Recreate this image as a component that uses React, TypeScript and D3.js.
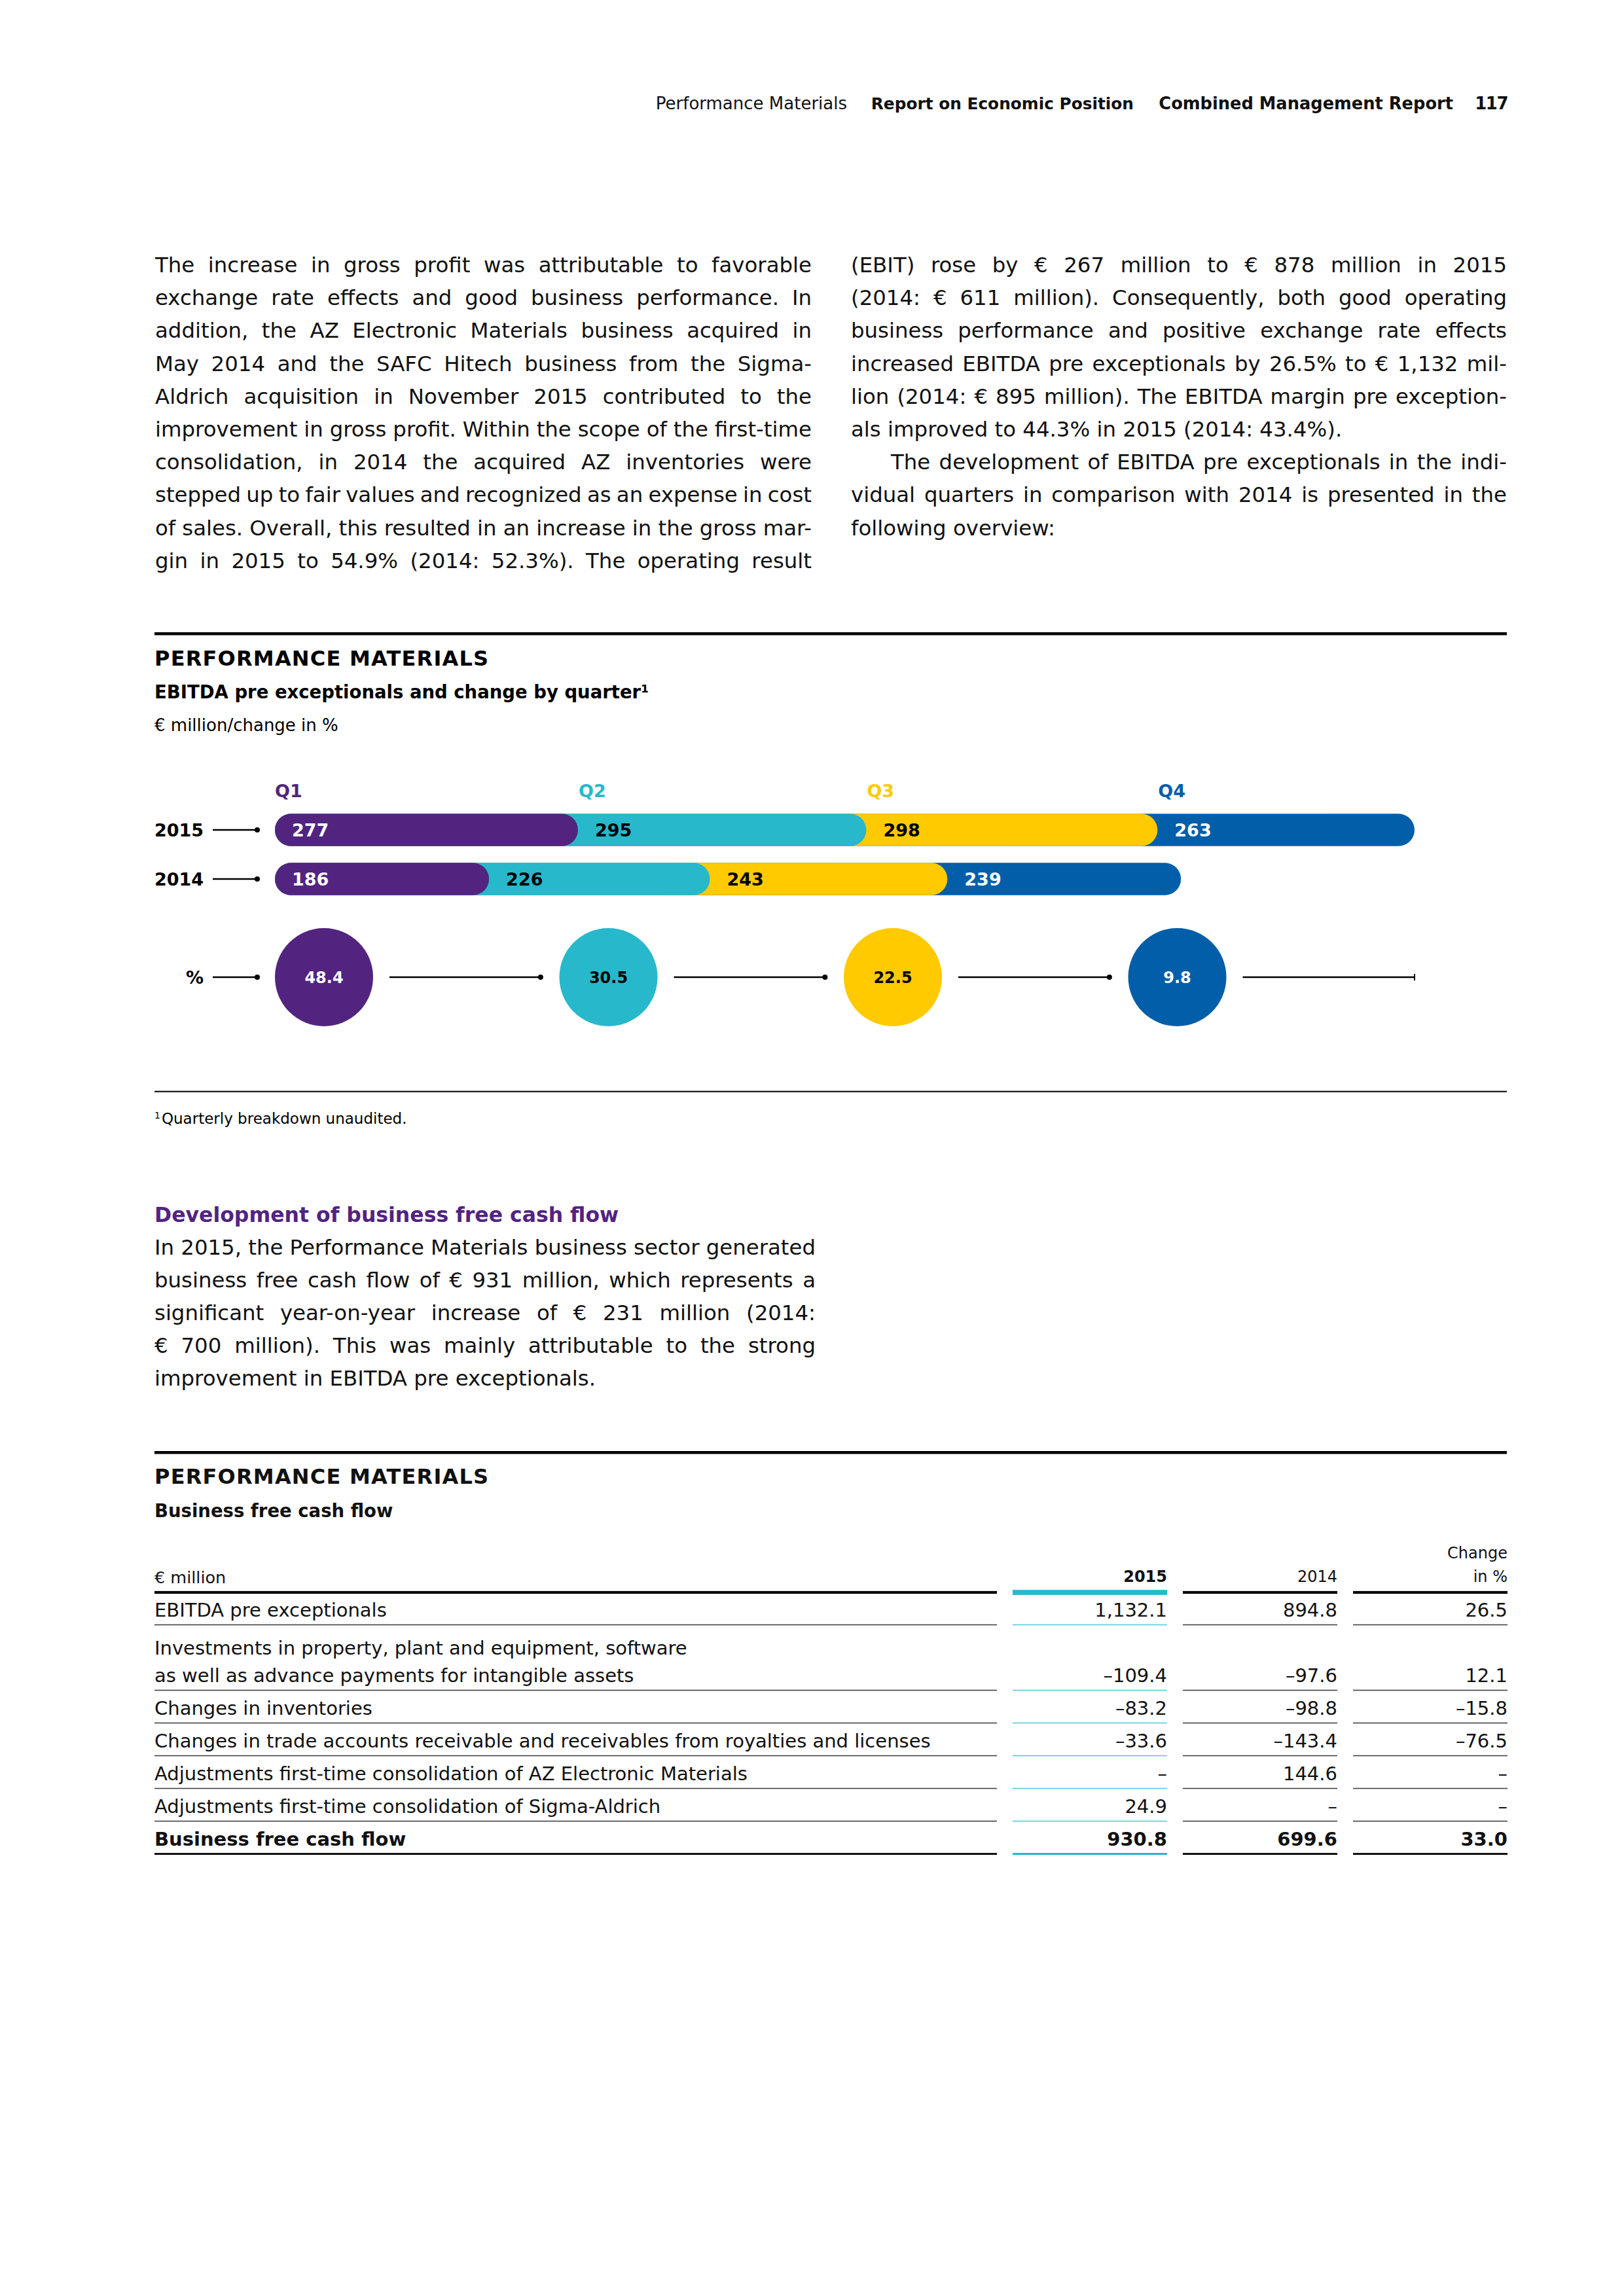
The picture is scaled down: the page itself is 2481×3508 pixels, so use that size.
import React from 'react';
import * as d3 from 'd3';

const FONT = '"DejaVu Sans", Verdana, sans-serif';

// ---------- chart data ----------
const quarters = ['Q1', 'Q2', 'Q3', 'Q4'];
const years = ['2015', '2014'];
const ebitda2015 = [277, 295, 298, 263];
const ebitda2014 = [186, 226, 243, 239];
const changePct = [48.4, 30.5, 22.5, 9.8];
const quarterColors = ['#52247f', '#27b8cc', '#ffca00', '#035ea9'];
const quarterTextColors = ['#ffffff', '#000000', '#000000', '#ffffff'];

// ---------- table data ----------
const tableRowLabels = [
  ['EBITDA pre exceptionals'],
  ['Investments in property, plant and equipment, software', 'as well as advance payments for intangible assets'],
  ['Changes in inventories'],
  ['Changes in trade accounts receivable and receivables from royalties and licenses'],
  ['Adjustments first-time consolidation of AZ Electronic Materials'],
  ['Adjustments first-time consolidation of Sigma-Aldrich'],
  ['Business free cash flow'],
];
const tableValues2015 = [1132.1, -109.4, -83.2, -33.6, null, 24.9, 930.8];
const tableValues2014 = [894.8, -97.6, -98.8, -143.4, 144.6, null, 699.6];
const tableChange = [26.5, 12.1, -15.8, -76.5, null, null, 33.0];
const tableHeaders = ['2015', '2014', 'Change|in %'];

// ---------- page text ----------
const leftCol = [
  'The increase in gross profit was attributable to favorable',
  'exchange rate effects and good business performance. In',
  'addition, the AZ Electronic Materials business acquired in',
  'May 2014 and the SAFC Hitech business from the Sigma-',
  'Aldrich acquisition in November 2015 contributed to the',
  'improvement in gross profit. Within the scope of the first-time',
  'consolidation, in 2014 the acquired AZ inventories were',
  'stepped up to fair values and recognized as an expense in cost',
  'of sales. Overall, this resulted in an increase in the gross mar-',
  'gin in 2015 to 54.9% (2014: 52.3%). The operating result',
];
const rightCol = [
  '(EBIT) rose by € 267 million to € 878 million in 2015',
  '(2014: € 611 million). Consequently, both good operating',
  'business performance and positive exchange rate effects',
  'increased EBITDA pre exceptionals by 26.5% to € 1,132 mil-',
  'lion (2014: € 895 million). The EBITDA margin pre exception-',
  'als improved to 44.3% in 2015 (2014: 43.4%).',
  'The development of EBITDA pre exceptionals in the indi-',
  'vidual quarters in comparison with 2014 is presented in the',
  'following overview:',
];
const rightJustify = [true, true, true, true, true, false, true, true, false];
const rightIndent = [0, 0, 0, 0, 0, 0, 61, 0, 0];
const devCol = [
  'In 2015, the Performance Materials business sector generated',
  'business free cash flow of € 931 million, which represents a',
  'significant year-on-year increase of € 231 million (2014:',
  '€ 700 million). This was mainly attributable to the strong',
  'improvement in EBITDA pre exceptionals.',
];

const BODY = 32.4;
const LEAD = 50.2;

let ctx: CanvasRenderingContext2D | null = null;
function textWidth(s: string, size: number, weight = 400) {
  if (!ctx) ctx = document.createElement('canvas').getContext('2d');
  if (!ctx) return s.length * size * 0.55;
  ctx.font = `${weight} ${size}px "DejaVu Sans"`;
  return ctx.measureText(s).width;
}

function JLine({ text, x0, x1, y, size, justify }: any) {
  if (!justify) {
    return (
      <text x={x0} y={y} fontSize={size} fontFamily={FONT} fill="#111">
        {text}
      </text>
    );
  }
  const words = text.split(' ');
  const widths = words.map((w: string) => textWidth(w, size));
  const total = d3.sum(widths);
  const gap = words.length > 1 ? (x1 - x0 - total) / (words.length - 1) : 0;
  let cx = x0;
  const xs: number[] = [];
  widths.forEach((w: number) => {
    xs.push(cx);
    cx += w + gap;
  });
  return (
    <text y={y} fontSize={size} fontFamily={FONT} fill="#111">
      {words.map((w: string, i: number) => (
        <tspan key={i} x={xs[i]}>
          {w}
        </tspan>
      ))}
    </text>
  );
}

const fmt = (v: number | null) => (v === null ? '–' : d3.format(',.1f')(v).replace('−', '–').replace('-', '–'));

function Chart() {
  const barLeft = 420;
  const barH = 49.4;
  const r = barH / 2;
  const total15 = d3.sum(ebitda2015);
  const x = d3.scaleLinear().domain([0, total15]).range([barLeft + barH, 2161]);
  const rowY = d3.scalePoint().domain(years).range([1268, 1343]);
  const band = d3.scaleBand().domain(quarters).range([barLeft, barLeft + 4 * 434.5]);
  const circR = 75;
  const circY = 1493;
  const cum15 = d3.cumsum(ebitda2015);
  const seriesByYear: Record<string, number[]> = { '2015': ebitda2015, '2014': ebitda2014 };

  return (
    <g fontFamily={FONT}>
      {/* title block */}
      <rect x={236} y={966} width={2066} height={4.5} fill="#000" />
      <text x={236} y={1017} fontSize={32} fontWeight={700} letterSpacing={1.2}>PERFORMANCE MATERIALS</text>
      <text x={236} y={1067} fontSize={27.5} fontWeight={700}>EBITDA pre exceptionals and change by quarter¹</text>
      <text x={236} y={1117} fontSize={26}>€ million/change in %</text>

      {/* quarter labels */}
      {quarters.map((q, i) => (
        <text key={q} x={i === 0 ? barLeft : x(cum15[i - 1]) + 1} y={1218} fontSize={27} fontWeight={700} fill={quarterColors[i]}>
          {q}
        </text>
      ))}

      {/* stacked pill bars */}
      {years.map((yr) => {
        const vals = seriesByYear[yr];
        const cum = d3.cumsum(vals);
        const cy = rowY(yr) as number;
        return (
          <g key={yr}>
            <text x={236} y={cy + 10} fontSize={27} fontWeight={700}>{yr}</text>
            <line x1={325} x2={393} y1={cy} y2={cy} stroke="#000" strokeWidth={2.4} />
            <circle cx={393} cy={cy} r={4} fill="#000" />
            {[3, 2, 1, 0].map((i) => (
              <rect key={i} x={barLeft} y={cy - r} width={x(cum[i]) - barLeft} height={barH} rx={r} ry={r} fill={quarterColors[i]} />
            ))}
            {vals.map((v, i) => (
              <text key={'t' + i} x={(i === 0 ? barLeft : x(cum[i - 1])) + 26} y={cy + 10} fontSize={27} fontWeight={700} fill={quarterTextColors[i]}>
                {v}
              </text>
            ))}
          </g>
        );
      })}

      {/* % row */}
      <text x={311} y={circY + 10} fontSize={27} fontWeight={700} textAnchor="end">%</text>
      <line x1={325} x2={393} y1={circY} y2={circY} stroke="#000" strokeWidth={2.4} />
      <circle cx={393} cy={circY} r={4} fill="#000" />
      {quarters.map((q, i) => {
        const cx = (band(q) as number) + circR;
        const lx1 = cx + circR + 25;
        const lx2 = i < 3 ? (band(quarters[i + 1]) as number) - 28.6 : x(total15);
        return (
          <g key={q}>
            <circle cx={cx} cy={circY} r={circR} fill={quarterColors[i]} />
            <text x={cx} y={circY + 9} fontSize={24} fontWeight={700} textAnchor="middle" fill={quarterTextColors[i]}>
              {changePct[i].toFixed(1)}
            </text>
            <line x1={lx1} x2={lx2} y1={circY} y2={circY} stroke="#000" strokeWidth={2.4} />
            {i < 3 ? (
              <circle cx={lx2} cy={circY} r={4} fill="#000" />
            ) : (
              <line x1={lx2} x2={lx2} y1={circY - 5} y2={circY + 5} stroke="#000" strokeWidth={2} />
            )}
          </g>
        );
      })}

      {/* footnote */}
      <rect x={236} y={1666.7} width={2066} height={2} fill="#000" />
      <text x={236} y={1717} fontSize={23}>
        <tspan fontSize={14} dy={-8}>1</tspan>
        <tspan dy={8} dx={2}>Quarterly breakdown unaudited.</tspan>
      </text>
    </g>
  );
}

function Table() {
  const cols = [
    [236, 1523],
    [1547, 1783],
    [1807, 2043],
    [2067, 2303],
  ];
  const cyan = '#27b8cc';
  const headerY = 2433;
  const pitch = 50;
  const bottoms: number[] = [];
  let acc = headerY - 0.5;
  tableRowLabels.forEach((l) => {
    acc += pitch * l.length;
    bottoms.push(acc);
  });
  const colVals = [tableValues2015, tableValues2014, tableChange];
  const last = tableRowLabels.length - 1;
  return (
    <g fontFamily={FONT} fill="#111">
      <rect x={236} y={2217} width={2066} height={4.5} fill="#000" />
      <text x={236} y={2267} fontSize={32} fontWeight={700} letterSpacing={1.2}>PERFORMANCE MATERIALS</text>
      <text x={236} y={2318} fontSize={27.5} fontWeight={700}>Business free cash flow</text>

      {/* headers */}
      <text x={236} y={2419} fontSize={25.5}>€ million</text>
      {tableHeaders.map((h, i) => {
        const parts = h.split('|');
        const xr = cols[i + 1][1];
        return (
          <text key={h} x={xr} textAnchor="end" fontSize={24} fontWeight={i === 0 ? 700 : 400}>
            {parts.map((p, k) => (
              <tspan key={k} x={xr} y={2417 - (parts.length - 1 - k) * 36}>{p}</tspan>
            ))}
          </text>
        );
      })}
      {cols.map((c, i) => (
        <rect key={'h' + i} x={c[0]} y={i === 1 ? headerY - 3.9 : headerY - 2.1} width={c[1] - c[0]} height={i === 1 ? 7.8 : 4.2} fill={i === 1 ? cyan : '#000'} />
      ))}

      {/* rows */}
      {tableRowLabels.map((lines, ri) => {
        const b = bottoms[ri];
        const bold = ri === last;
        return (
          <g key={ri}>
            {lines.map((ln, k) => (
              <text key={k} x={236} y={b - 12.5 - (lines.length - 1 - k) * 42} fontSize={29} fontWeight={bold ? 700 : 400}>{ln}</text>
            ))}
            {colVals.map((vals, ci) => (
              <text key={'v' + ci} x={cols[ci + 1][1]} y={b - 13} fontSize={29} textAnchor="end" fontWeight={bold ? 700 : 400}>
                {fmt(vals[ri])}
              </text>
            ))}
            {cols.map((c, ci) => (
              <rect
                key={'r' + ci}
                x={c[0]}
                y={b - (bold ? 1.5 : 0.8)}
                width={c[1] - c[0]}
                height={bold ? 3 : 1.6}
                fill={ci === 1 ? (bold ? cyan : '#5cc8d8') : bold ? '#111' : '#444'}
              />
            ))}
          </g>
        );
      })}
    </g>
  );
}

export default function App() {
  return (
    <svg
      width={2481}
      height={3508}
      viewBox="0 0 2481 3508"
      style={{ position: 'absolute', left: 0, top: 0, background: '#fff' }}
    >
      <rect x={0} y={0} width={2481} height={3508} fill="#fff" />
      {/* running header */}
      <g fontFamily={FONT} fill="#111">
        <text x={1294} y={167} textAnchor="end" fontSize={26}>Performance Materials</text>
        <text x={1732} y={167} textAnchor="end" fontSize={24.8} fontWeight={700}>Report on Economic Position</text>
        <text x={2220} y={167} textAnchor="end" fontSize={25.7} fontWeight={700}>Combined Management Report</text>
        <text x={2303} y={167} textAnchor="end" fontWeight={700} fontSize={26} letterSpacing={-1.5}>117</text>
      </g>

      {/* body text columns */}
      {leftCol.map((t, i) => (
        <JLine key={'l' + i} text={t} x0={237} x1={1240} y={416 + i * LEAD} size={BODY} justify={true} />
      ))}
      {rightCol.map((t, i) => (
        <JLine key={'r' + i} text={t} x0={1300 + rightIndent[i]} x1={2302} y={416 + i * LEAD} size={BODY} justify={rightJustify[i]} />
      ))}

      <Chart />

      {/* development section */}
      <text x={236} y={1867} fontFamily={FONT} fontSize={31.5} fontWeight={700} fill="#52247f">
        Development of business free cash flow
      </text>
      {devCol.map((t, i) => (
        <JLine key={'d' + i} text={t} x0={236} x1={1246} y={1917 + i * 50} size={BODY} justify={i < devCol.length - 1} />
      ))}

      <Table />
    </svg>
  );
}
